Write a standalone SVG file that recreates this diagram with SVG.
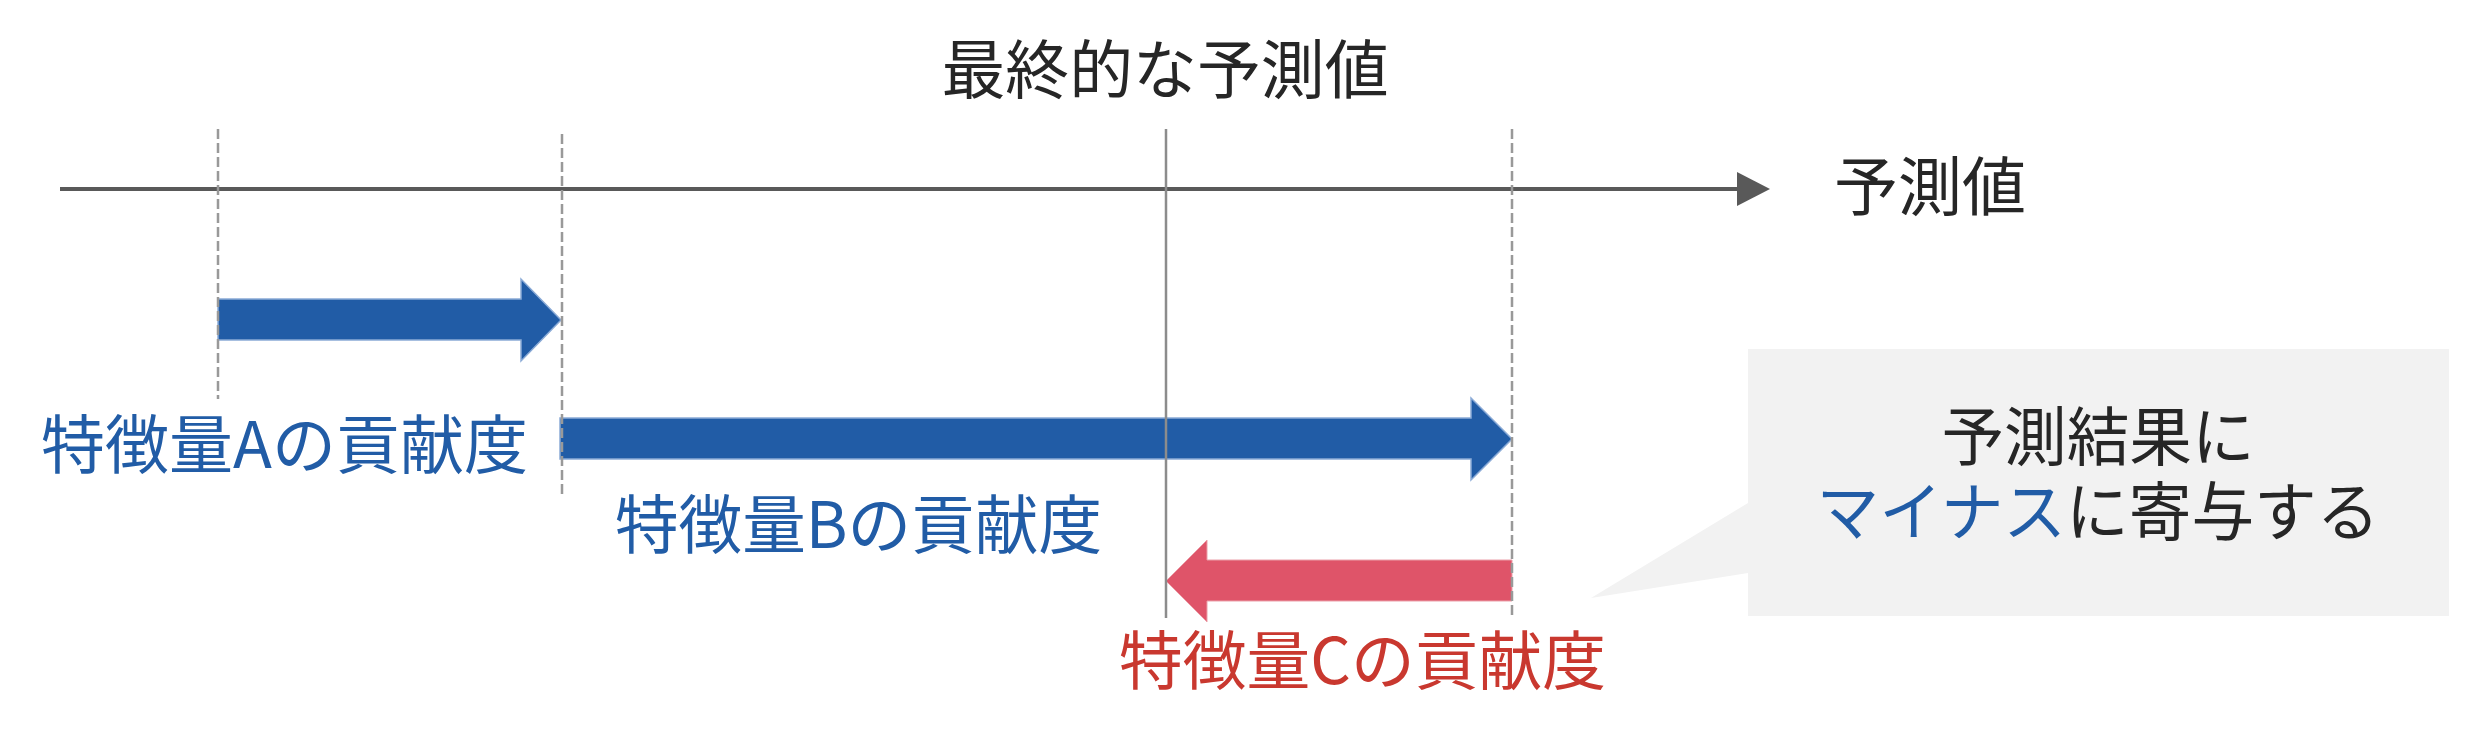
<svg xmlns="http://www.w3.org/2000/svg" width="2478" height="730" viewBox="0 0 2478 730">
<style>
text{font-family:"Noto Sans CJK JP","Noto Sans",sans-serif;font-size:64px;}
.dk{fill:#262626;}
.bl{fill:#215CA6;}
.rd{fill:#C9382F;}
.barb{fill:#215CA6;stroke:#8AAAD6;stroke-width:1.5;}
.barr{fill:#DF5469;stroke:#EBA0AA;stroke-width:1;}
.dash{stroke:#999999;stroke-width:2.5;stroke-dasharray:10 4;fill:none;}
.solid{stroke:#8C8C8C;stroke-width:2.5;fill:none;}
</style>
<rect width="2478" height="730" fill="#FFFFFF"/>
<g id="connectors">
<line x1="60" y1="189" x2="1740" y2="189" stroke="#595959" stroke-width="4"/>
<polygon points="1737,172 1770,189 1737,206" fill="#595959"/>
</g>
<g id="arrowA">
<polygon class="barb" points="218,299 521,299 521,279 561,320 521,361 521,340 218,340"/>
</g>
<g id="arrowB">
<polygon class="barb" points="560,418 1471,418 1471,398 1512,439 1471,480 1471,459 560,459"/>
</g>
<g id="arrowC">
<polygon class="barr" points="1512,560 1207,560 1207,540 1166,581 1207,622 1207,601 1512,601"/>
</g>
<g id="guides">
<line class="dash" x1="218" y1="129" x2="218" y2="399"/>
<line class="dash" x1="562" y1="134" x2="562" y2="494"/>
<line class="dash" x1="1512" y1="129" x2="1512" y2="616"/>
<line class="solid" x1="1166" y1="129" x2="1166" y2="618"/>
</g>
<g id="title">
<text class="dk" x="1165" y="93" text-anchor="middle" textLength="447" lengthAdjust="spacingAndGlyphs">最終的な予測値</text>
</g>
<g id="axisLabel">
<text class="dk" x="1834" y="210" textLength="192" lengthAdjust="spacingAndGlyphs">予測値</text>
</g>
<g id="labelA">
<text class="bl" x="41" y="468" textLength="487" lengthAdjust="spacingAndGlyphs">特徴量Aの貢献度</text>
</g>
<g id="labelB">
<text class="bl" x="615" y="548" textLength="487" lengthAdjust="spacingAndGlyphs">特徴量Bの貢献度</text>
</g>
<g id="labelC">
<text class="rd" x="1119" y="684" textLength="487" lengthAdjust="spacingAndGlyphs">特徴量Cの貢献度</text>
</g>
<g id="callout">
<polygon points="1748,349 2449,349 2449,616 1748,616 1748,573 1591,598 1748,503" fill="#F2F2F2"/>
<text class="dk" x="2098" y="460" text-anchor="middle" textLength="313" lengthAdjust="spacingAndGlyphs">予測結果に</text>
<text class="dk" x="2098" y="535" text-anchor="middle" textLength="563" lengthAdjust="spacingAndGlyphs"><tspan class="bl">マイナス</tspan>に寄与する</text>
</g>
</svg>
